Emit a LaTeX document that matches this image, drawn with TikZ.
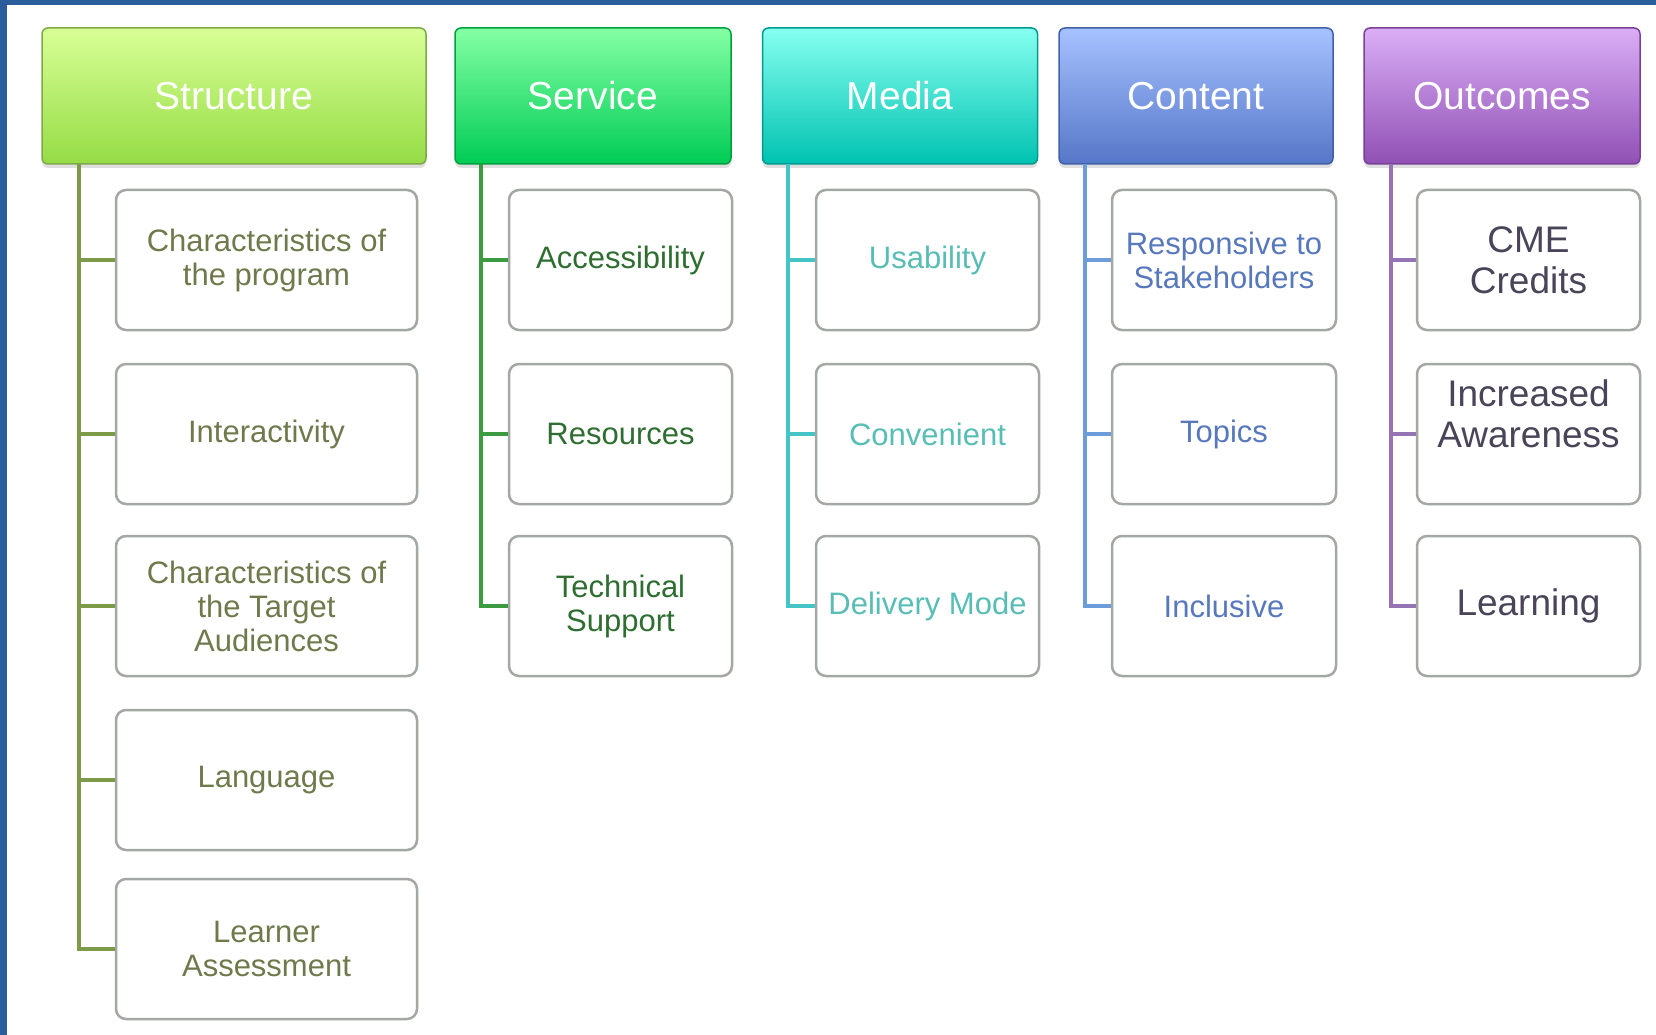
\documentclass[tikz,border=0pt]{standalone}
\usepackage{fontspec}
\setmainfont{Liberation Sans}
\usetikzlibrary{shadows,calc}
\definecolor{frameblue}{HTML}{2B5C9C}
\definecolor{sTop}{HTML}{D8FF95}\definecolor{sBot}{HTML}{96DC46}\definecolor{sEdge}{HTML}{7FA848}\definecolor{sLine}{HTML}{7D9A48}\definecolor{sText}{HTML}{6E7A4C}
\definecolor{vTop}{HTML}{84FFA4}\definecolor{vBot}{HTML}{00CC55}\definecolor{vEdge}{HTML}{00A040}\definecolor{vLine}{HTML}{3C9A40}\definecolor{vText}{HTML}{2E6E30}
\definecolor{mTop}{HTML}{86FFF0}\definecolor{mBot}{HTML}{00C2B0}\definecolor{mEdge}{HTML}{009A90}\definecolor{mLine}{HTML}{44C4C4}\definecolor{mText}{HTML}{58BDB4}
\definecolor{cTop}{HTML}{A6C2FF}\definecolor{cBot}{HTML}{5676C8}\definecolor{cEdge}{HTML}{4060A8}\definecolor{cLine}{HTML}{6C9CDA}\definecolor{cText}{HTML}{5878BE}
\definecolor{oTop}{HTML}{DAAEF6}\definecolor{oBot}{HTML}{9050B4}\definecolor{oEdge}{HTML}{7A4098}\definecolor{oLine}{HTML}{9474B4}\definecolor{oText}{HTML}{4A4458}
\definecolor{boxEdge}{HTML}{A4A8A4}
\tikzset{
  header/.style n args={3}{rectangle, rounded corners=6pt, minimum height=136pt, top color=#1, bottom color=#2, draw=#3, line width=1.5pt, text=white, font=\fontsize{39}{42}\selectfont, inner sep=0pt, drop shadow={opacity=0.25, shadow xshift=0pt, shadow yshift=-4pt}},
  child/.style={rectangle, rounded corners=10pt, minimum height=140pt, draw=boxEdge, line width=2.5pt, fill=white, align=center, inner sep=0pt, font=\fontsize{31}{34}\selectfont},
  bigchild/.style={child, font=\fontsize{37}{41}\selectfont},
  trunk/.style={line width=3.5pt},
}
\begin{document}
\begin{tikzpicture}[x=1pt,y=-1pt]
\useasboundingbox (0,0) rectangle (1656,1035);
\fill[white] (0,0) rectangle (1656,1035);
\fill[frameblue] (0,0) rectangle (1656,5);
\fill[frameblue] (0,0) rectangle (7,1035);

% headers
\node[header={sTop}{sBot}{sEdge}, minimum width=384pt] (hs) at (234,96) {Structure};
\node[header={vTop}{vBot}{vEdge}, minimum width=276pt] (hv) at (593,96) {Service};
\node[header={mTop}{mBot}{mEdge}, minimum width=275pt] (hm) at (900,96) {Media};
\node[header={cTop}{cBot}{cEdge}, minimum width=274pt] (hc) at (1196,96) {Content};
\node[header={oTop}{oBot}{oEdge}, minimum width=276pt] (ho) at (1502,96) {Outcomes};

% Structure children
\node[child, minimum width=301pt, text=sText] (s1) at (266.5,260) {Characteristics of\\the program};
\node[child, minimum width=301pt, text=sText] (s2) at (266.5,434) {Interactivity};
\node[child, minimum width=301pt, text=sText] (s3) at (266.5,606) {Characteristics of\\the Target\\Audiences};
\node[child, minimum width=301pt, text=sText] (s4) at (266.5,780) {Language};
\node[child, minimum width=301pt, text=sText] (s5) at (266.5,949) {Learner\\Assessment};

% Service children
\node[child, minimum width=223pt, text=vText] (v1) at (620.5,260) {Accessibility};
\node[child, minimum width=223pt, text=vText] (v2) at (620.5,434) {Resources};
\node[child, minimum width=223pt, text=vText] (v3) at (620.5,606) {Technical\\Support};

% Media children
\node[child, minimum width=223pt, text=mText] (m1) at (927.5,260) {Usability};
\node[child, minimum width=223pt, text=mText] (m2) at (927.5,434) {Convenient};
\node[child, minimum width=223pt, text=mText] (m3) at (927.5,606) {Delivery Mode};

% Content children
\node[child, minimum width=224pt, text=cText] (c1) at (1224,260) {Responsive to\\Stakeholders};
\node[child, minimum width=224pt, text=cText] (c2) at (1224,434) {Topics};
\node[child, minimum width=224pt, text=cText] (c3) at (1224,606) {Inclusive};

% Outcomes children
\node[bigchild, minimum width=223pt, text=oText] (o1) at (1528.5,260) {CME\\Credits};
\node[bigchild, minimum width=223pt, text=oText] (o2) at (1528.5,434) {Increased\\Awareness\\~};
\node[bigchild, minimum width=223pt, text=oText] (o3) at (1528.5,606) {Learning};

% trunks
\coordinate (ts) at (79,164);
\coordinate (tv) at (481,164);
\coordinate (tm) at (788,164);
\coordinate (tc) at (1085,164);
\coordinate (to) at (1391,164);

\draw[trunk, sLine] (ts) |- (s5.west);
\foreach \n in {s1,s2,s3,s4} \draw[trunk, sLine] (ts |- \n.west) -- (\n.west);
\draw[trunk, vLine] (tv) |- (v3.west);
\foreach \n in {v1,v2} \draw[trunk, vLine] (tv |- \n.west) -- (\n.west);
\draw[trunk, mLine] (tm) |- (m3.west);
\foreach \n in {m1,m2} \draw[trunk, mLine] (tm |- \n.west) -- (\n.west);
\draw[trunk, cLine] (tc) |- (c3.west);
\foreach \n in {c1,c2} \draw[trunk, cLine] (tc |- \n.west) -- (\n.west);
\draw[trunk, oLine] (to) |- (o3.west);
\foreach \n in {o1,o2} \draw[trunk, oLine] (to |- \n.west) -- (\n.west);
\end{tikzpicture}
\end{document}
